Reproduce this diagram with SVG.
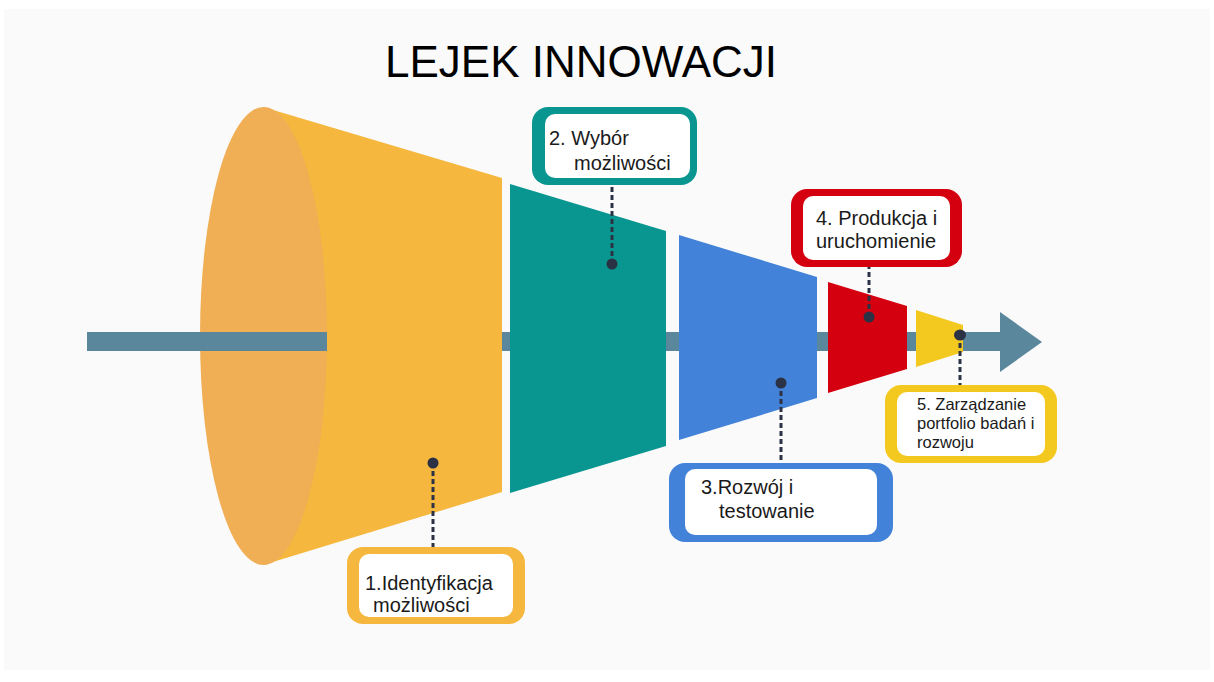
<svg xmlns="http://www.w3.org/2000/svg" width="1214" height="682" viewBox="0 0 1214 682">
<style>
.lbl{font-family:"Liberation Sans",Arial,sans-serif;font-size:20px;fill:#1a1a1a}
.small{font-size:16.5px}
.dash{stroke:#2B3245;stroke-width:3;stroke-dasharray:5 3;fill:none}
.dot{fill:#2B3245}
.inner{fill:#FFFFFF}
</style>
<rect x="0" y="0" width="1214" height="682" fill="#FFFFFF"/>
<rect x="4" y="9" width="1206" height="661" fill="#FAFAFA"/>
<text x="581" y="77" text-anchor="middle" font-family="'Liberation Sans',Arial,sans-serif" font-size="44" fill="#000">LEJEK INNOWACJI</text>

<g id="axis">
<rect x="320" y="332" width="685" height="19" fill="#5A879C"/>
<polygon points="1000,312 1042,342 1000,372" fill="#5A879C"/>
</g>

<g id="stage1">
<path d="M263,107 L502,178 L502,492 L263,565 Z" fill="#F5B73E"/>
<ellipse cx="263.5" cy="336" rx="63.5" ry="229" fill="#F0AE55"/>
<rect x="87" y="332" width="240" height="19" fill="#5A879C"/>
</g>
<g id="stage2"><polygon points="510,184 666,231 666,446 510,493" fill="#0A9690"/></g>
<g id="stage3"><polygon points="679,235 817,277 817,398 679,440" fill="#4282D8"/></g>
<g id="stage4"><polygon points="828,282 907,306 907,369 828,393" fill="#D5000F"/></g>
<g id="stage5"><polygon points="916,310 963,325 963,352 916,367" fill="#F4C91F"/></g>

<g id="connectors">
<line class="dash" x1="433" y1="463" x2="433" y2="548"/>
<line class="dash" x1="612" y1="264" x2="612" y2="184"/>
<line class="dash" x1="781" y1="383" x2="781" y2="463"/>
<line class="dash" x1="869" y1="317" x2="869" y2="266"/>
<line class="dash" x1="960" y1="335" x2="960" y2="386"/>
<circle class="dot" cx="433" cy="463" r="5.5"/>
<circle class="dot" cx="612" cy="264" r="5.5"/>
<circle class="dot" cx="781" cy="383" r="5.5"/>
<circle class="dot" cx="869" cy="317" r="5.5"/>
<ellipse class="dot" cx="960" cy="335" rx="6" ry="5.5"/>
</g>

<g id="label1">
<rect x="347" y="547" width="178" height="77" rx="16" fill="#F5B73E"/>
<rect x="359" y="554" width="154" height="63" rx="10" class="inner"/>
<text class="lbl" x="365" y="590">1.Identyfikacja</text>
<text class="lbl" x="373" y="612">możliwości</text>
</g>
<g id="label2">
<rect x="532" y="107" width="165" height="78" rx="16" fill="#0A9690"/>
<rect x="545" y="114" width="145" height="64" rx="10" class="inner"/>
<text class="lbl" x="549" y="145">2. Wybór</text>
<text class="lbl" x="574" y="170">możliwości</text>
</g>
<g id="label3">
<rect x="669" y="463" width="224" height="79" rx="16" fill="#4282D8"/>
<rect x="685" y="469" width="192" height="66" rx="10" class="inner"/>
<text class="lbl" x="701" y="494">3.Rozwój i</text>
<text class="lbl" x="719" y="518">testowanie</text>
</g>
<g id="label4">
<rect x="791" y="189" width="171" height="78" rx="16" fill="#D5000F"/>
<rect x="803" y="196" width="147" height="64" rx="10" class="inner"/>
<text class="lbl" x="816" y="225">4. Produkcja i</text>
<text class="lbl" x="816" y="248">uruchomienie</text>
</g>
<g id="label5">
<rect x="885" y="385" width="172" height="78" rx="16" fill="#F4C91F"/>
<rect x="897" y="392" width="148" height="64" rx="10" class="inner"/>
<text class="lbl small" x="917" y="410">5. Zarządzanie</text>
<text class="lbl small" x="917" y="429">portfolio badań i</text>
<text class="lbl small" x="917" y="448">rozwoju</text>
</g>
</svg>
